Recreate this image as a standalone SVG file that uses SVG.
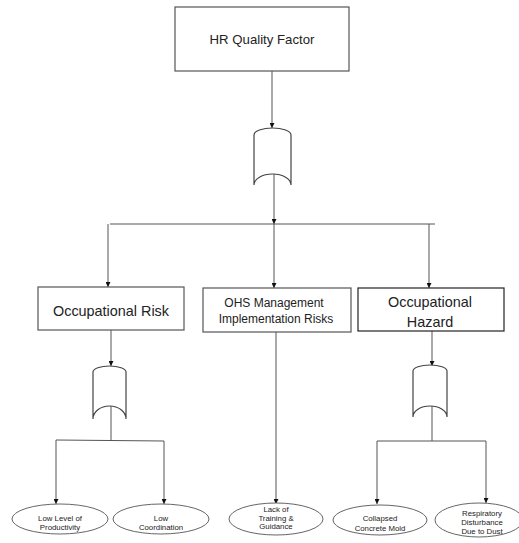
<svg xmlns="http://www.w3.org/2000/svg" width="519" height="543" viewBox="0 0 519 543">
<style>
.box{fill:#fff;stroke:#555;stroke-width:1.2}
.gate{fill:#fff;stroke:#444;stroke-width:1.2}
.ell{fill:#fff;stroke:#666;stroke-width:1}
.ln{fill:none;stroke:#555;stroke-width:1}
.t{font-family:"Liberation Sans",Arial,sans-serif;fill:#222;text-anchor:middle}
.s{font-size:7.8px}
</style>
<defs>
<marker id="ah" viewBox="0 0 10 10" refX="10" refY="5" markerWidth="5" markerHeight="5" orient="auto" markerUnits="userSpaceOnUse">
<path d="M0,0 L10,5 L0,10 Z" fill="#111"/>
</marker>
</defs>
<rect width="519" height="543" fill="#fff"/>
<g id="connectors">
<line class="ln" x1="272" y1="71" x2="272" y2="128" marker-end="url(#ah)"/>
<line class="ln" x1="274" y1="174" x2="274" y2="224" marker-end="url(#ah)"/>
<line class="ln" x1="110" y1="224" x2="435" y2="224"/>
<line class="ln" x1="108" y1="224" x2="108" y2="287" marker-end="url(#ah)"/>
<line class="ln" x1="274" y1="224" x2="274" y2="288" marker-end="url(#ah)"/>
<line class="ln" x1="429" y1="224" x2="429" y2="288" marker-end="url(#ah)"/>
<line class="ln" x1="111" y1="330" x2="111" y2="366" marker-end="url(#ah)"/>
<line class="ln" x1="111" y1="406" x2="111" y2="440"/>
<line class="ln" x1="56" y1="440" x2="164" y2="441"/>
<line class="ln" x1="56" y1="440" x2="56" y2="504" marker-end="url(#ah)"/>
<line class="ln" x1="164" y1="441" x2="164" y2="504" marker-end="url(#ah)"/>
<line class="ln" x1="276" y1="332" x2="276" y2="504" marker-end="url(#ah)"/>
<line class="ln" x1="432" y1="331" x2="432" y2="366" marker-end="url(#ah)"/>
<line class="ln" x1="432" y1="406" x2="432" y2="441"/>
<line class="ln" x1="377" y1="441" x2="486" y2="441"/>
<line class="ln" x1="377" y1="441" x2="377" y2="504" marker-end="url(#ah)"/>
<line class="ln" x1="486" y1="441" x2="486" y2="503" marker-end="url(#ah)"/>
</g>
<g id="hr-quality-factor">
<rect class="box" x="175" y="7" width="174" height="64"/>
<text class="t" x="262" y="43.5" font-size="13.2">HR Quality Factor</text>
</g>
<g id="gate-top">
<path class="gate" d="M254,135 A18.5,7 0 0 1 291,135 L291,185 A18.5,11 0 0 0 254,185 Z"/>
</g>
<g id="occupational-risk">
<rect class="box" x="38" y="287" width="146" height="43"/>
<text class="t" x="111" y="316" font-size="14.4">Occupational Risk</text>
</g>
<g id="ohs-management">
<rect class="box" x="203" y="288" width="148" height="44"/>
<text class="t" x="274" y="307" font-size="12">OHS Management</text>
<text class="t" x="276" y="323" font-size="12">Implementation Risks</text>
</g>
<g id="occupational-hazard">
<rect class="box" x="358" y="288" width="146" height="43" style="stroke:#222"/>
<text class="t" x="430" y="307" font-size="14.4">Occupational</text>
<text class="t" x="430" y="327" font-size="14.4">Hazard</text>
</g>
<g id="gate-left">
<path class="gate" d="M93,372 A16.5,6 0 0 1 126,372 L126,419 A16.5,13 0 0 0 93,419 Z"/>
</g>
<g id="gate-right">
<path class="gate" d="M413,371 A17,6 0 0 1 447,371 L447,417 A17,11 0 0 0 413,417 Z"/>
</g>
<g id="low-productivity">
<ellipse class="ell" cx="60" cy="519" rx="48" ry="15"/>
<text class="t s" x="60" y="520.5">Low Level of</text>
<text class="t s" x="60" y="530">Productivity</text>
</g>
<g id="low-coordination">
<ellipse class="ell" cx="161" cy="519" rx="48" ry="15"/>
<text class="t s" x="161" y="520.5">Low</text>
<text class="t s" x="161" y="530">Coordination</text>
</g>
<g id="lack-training">
<ellipse class="ell" cx="276" cy="519" rx="47" ry="16"/>
<text class="t s" x="276" y="512">Lack of</text>
<text class="t s" x="276" y="520.5">Training &amp;</text>
<text class="t s" x="276" y="529">Guidance</text>
</g>
<g id="collapsed-mold">
<ellipse class="ell" cx="380" cy="520" rx="47" ry="15"/>
<text class="t s" x="380" y="520.5">Collapsed</text>
<text class="t s" x="380" y="530.5">Concrete Mold</text>
</g>
<g id="respiratory">
<ellipse class="ell" cx="479" cy="520" rx="44" ry="17"/>
<text class="t s" x="482" y="515.5">Respiratory</text>
<text class="t s" x="482" y="525">Disturbance</text>
<text class="t s" x="482" y="534">Due to Dust</text>
</g>
</svg>
